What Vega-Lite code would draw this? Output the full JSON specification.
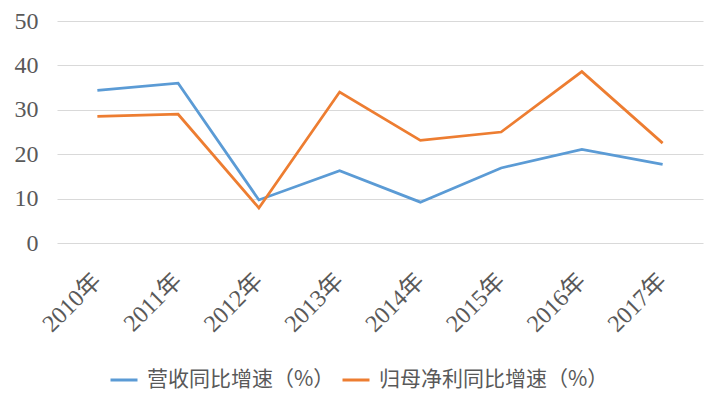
{
  "$schema": "https://vega.github.io/schema/vega-lite/v6.json",
  "width": 646,
  "height": 222,
  "autosize": {"type": "none"},
  "padding": {"left": 57, "top": 21, "right": 12, "bottom": 161},
  "background": "#ffffff",
  "config": {
    "view": {"stroke": null},
    "axis": {"labelColor": "#595959", "domain": false, "ticks": false}
  },
  "data": {
    "values": [
      {"year": "2010年", "series": "营收同比增速（%）", "value": 34.4},
      {"year": "2011年", "series": "营收同比增速（%）", "value": 36.0},
      {"year": "2012年", "series": "营收同比增速（%）", "value": 9.7},
      {"year": "2013年", "series": "营收同比增速（%）", "value": 16.3},
      {"year": "2014年", "series": "营收同比增速（%）", "value": 9.2},
      {"year": "2015年", "series": "营收同比增速（%）", "value": 16.9},
      {"year": "2016年", "series": "营收同比增速（%）", "value": 21.1},
      {"year": "2017年", "series": "营收同比增速（%）", "value": 17.7},
      {"year": "2010年", "series": "归母净利同比增速（%）", "value": 28.5},
      {"year": "2011年", "series": "归母净利同比增速（%）", "value": 29.0},
      {"year": "2012年", "series": "归母净利同比增速（%）", "value": 7.9},
      {"year": "2013年", "series": "归母净利同比增速（%）", "value": 34.0},
      {"year": "2014年", "series": "归母净利同比增速（%）", "value": 23.1},
      {"year": "2015年", "series": "归母净利同比增速（%）", "value": 25.0},
      {"year": "2016年", "series": "归母净利同比增速（%）", "value": 38.6},
      {"year": "2017年", "series": "归母净利同比增速（%）", "value": 22.5}
    ]
  },
  "mark": {"type": "line", "strokeWidth": 2.75, "strokeJoin": "miter"},
  "encoding": {
    "x": {
      "field": "year",
      "type": "ordinal",
      "sort": null,
      "scale": {"padding": 0.5},
      "axis": {
        "title": null,
        "labelAngle": -45,
        "labelAlign": "right",
        "labelBaseline": "middle",
        "labelPadding": 34,
        "labelFont": "Liberation Serif, Noto Sans CJK SC",
        "labelFontSize": 24,
        "grid": false
      }
    },
    "y": {
      "field": "value",
      "type": "quantitative",
      "scale": {"domain": [0, 50], "nice": false},
      "axis": {
        "title": null,
        "values": [0, 10, 20, 30, 40, 50],
        "labelFont": "Liberation Serif",
        "labelFontSize": 24,
        "labelPadding": 19,
        "grid": true,
        "gridColor": "#d9d9d9",
        "gridWidth": 1
      }
    },
    "color": {
      "field": "series",
      "type": "nominal",
      "scale": {
        "domain": ["营收同比增速（%）", "归母净利同比增速（%）"],
        "range": ["#5b9bd5", "#ed7d31"]
      },
      "legend": {
        "title": null,
        "orient": "none",
        "direction": "horizontal",
        "legendX": 52,
        "legendY": 344,
        "symbolType": "stroke",
        "symbolSize": 729,
        "symbolStrokeWidth": 3,
        "labelFont": "Noto Sans CJK SC",
        "labelFontSize": 21,
        "labelColor": "#595959",
        "labelOffset": 8,
        "columnPadding": 1,
        "labelLimit": 400
      }
    }
  }
}
